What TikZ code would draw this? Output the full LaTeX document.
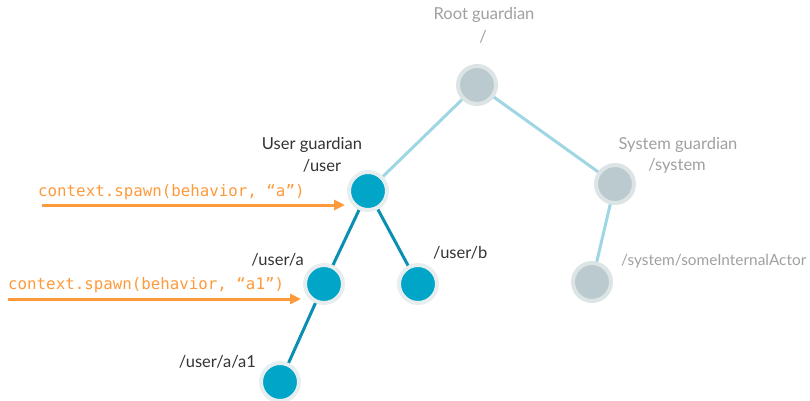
\documentclass[tikz,border=0pt]{standalone}
\usepackage{fontspec}
\setmainfont{Lato}
\setmonofont{DejaVu Sans Mono}
\usetikzlibrary{arrows.meta}
\definecolor{lightedge}{HTML}{9FD6E3}
\definecolor{darkedge}{HTML}{0A8FB2}
\definecolor{bluefill}{HTML}{00A5C8}
\definecolor{bluering}{HTML}{E8EEF0}
\definecolor{greyfill}{HTML}{BACACF}
\definecolor{greyring}{HTML}{DCE4E6}
\definecolor{greytext}{HTML}{A0A0A0}
\definecolor{darktext}{HTML}{333333}
\definecolor{orangec}{HTML}{FF9A3C}
\tikzset{
  bluenode/.style={circle, minimum size=38pt, inner sep=0pt, fill=bluefill, draw=bluering, line width=4pt},
  greynode/.style={circle, minimum size=38pt, inner sep=0pt, fill=greyfill, draw=greyring, line width=4pt},
  ledge/.style={draw=lightedge, line width=3pt},
  dedge/.style={draw=darkedge, line width=3pt},
  gtext/.style={text=greytext, font=\fontsize{16.5}{19}\selectfont, inner sep=0pt},
  dtext/.style={text=darktext, font=\fontsize{16.5}{19}\selectfont, inner sep=0pt},
  otext/.style={text=orangec, font=\ttfamily\fontsize{15.8}{18}\selectfont, inner sep=0pt, anchor=west},
  oarrow/.style={draw=orangec, line width=3pt, -{Triangle[length=11pt,width=10pt]}}
}
\begin{document}
\begin{tikzpicture}[x=1pt,y=-1pt]
\useasboundingbox (0,0) rectangle (810,400);
\coordinate (pr) at (477,85);
\coordinate (pu) at (368,191);
\coordinate (ps) at (615,184);
\coordinate (pi) at (592,282);
\coordinate (pa) at (324,284);
\coordinate (pb) at (418,284);
\coordinate (pa1) at (280,382);
\draw[ledge] (pr) -- (pu);
\draw[ledge] (pr) -- (ps);
\draw[ledge] (ps) -- (pi);
\draw[dedge] (pu) -- (pa);
\draw[dedge] (pu) -- (pb);
\draw[dedge] (pa) -- (pa1);
\node[greynode] (root) at (pr) {};
\node[greynode] (sys) at (ps) {};
\node[greynode] (int) at (pi) {};
\node[bluenode] (user) at (pu) {};
\node[bluenode] (a) at (pa) {};
\node[bluenode] (b) at (pb) {};
\node[bluenode] (a1) at (pa1) {};
\node[gtext] (rootl) at (484,15) {Root guardian};
\node[gtext] (roots) at (483,37) {/};
\node[dtext] (userl) at (312,145) {User guardian};
\node[dtext] (users) at (322,166) {/user};
\node[gtext] (sysl) at (678,145) {System guardian};
\node[gtext] (syss) at (677,166) {/system};
\node[gtext, anchor=west, font=\fontsize{15.4}{18}\selectfont] (intl) at (621,261) {/system/someInternalActor};
\node[dtext, anchor=west] (bl) at (433,253) {/user/b};
\node[dtext, anchor=east] (al) at (304,260) {/user/a};
\node[dtext, anchor=east] (a1l) at (256,362) {/user/a/a1};
\node[otext] (sp1) at (38,192) {context.spawn(behavior, “a”)};
\node[otext] (sp2) at (8,285) {context.spawn(behavior, “a1”)};
\coordinate (s1) at (42,205);
\coordinate (s2) at (8,299);
\draw[oarrow] (s1) -- ([xshift=-2pt]user.west |- s1);
\draw[oarrow] (s2) -- ([xshift=-2pt]a.west |- s2);
\end{tikzpicture}
\end{document}
